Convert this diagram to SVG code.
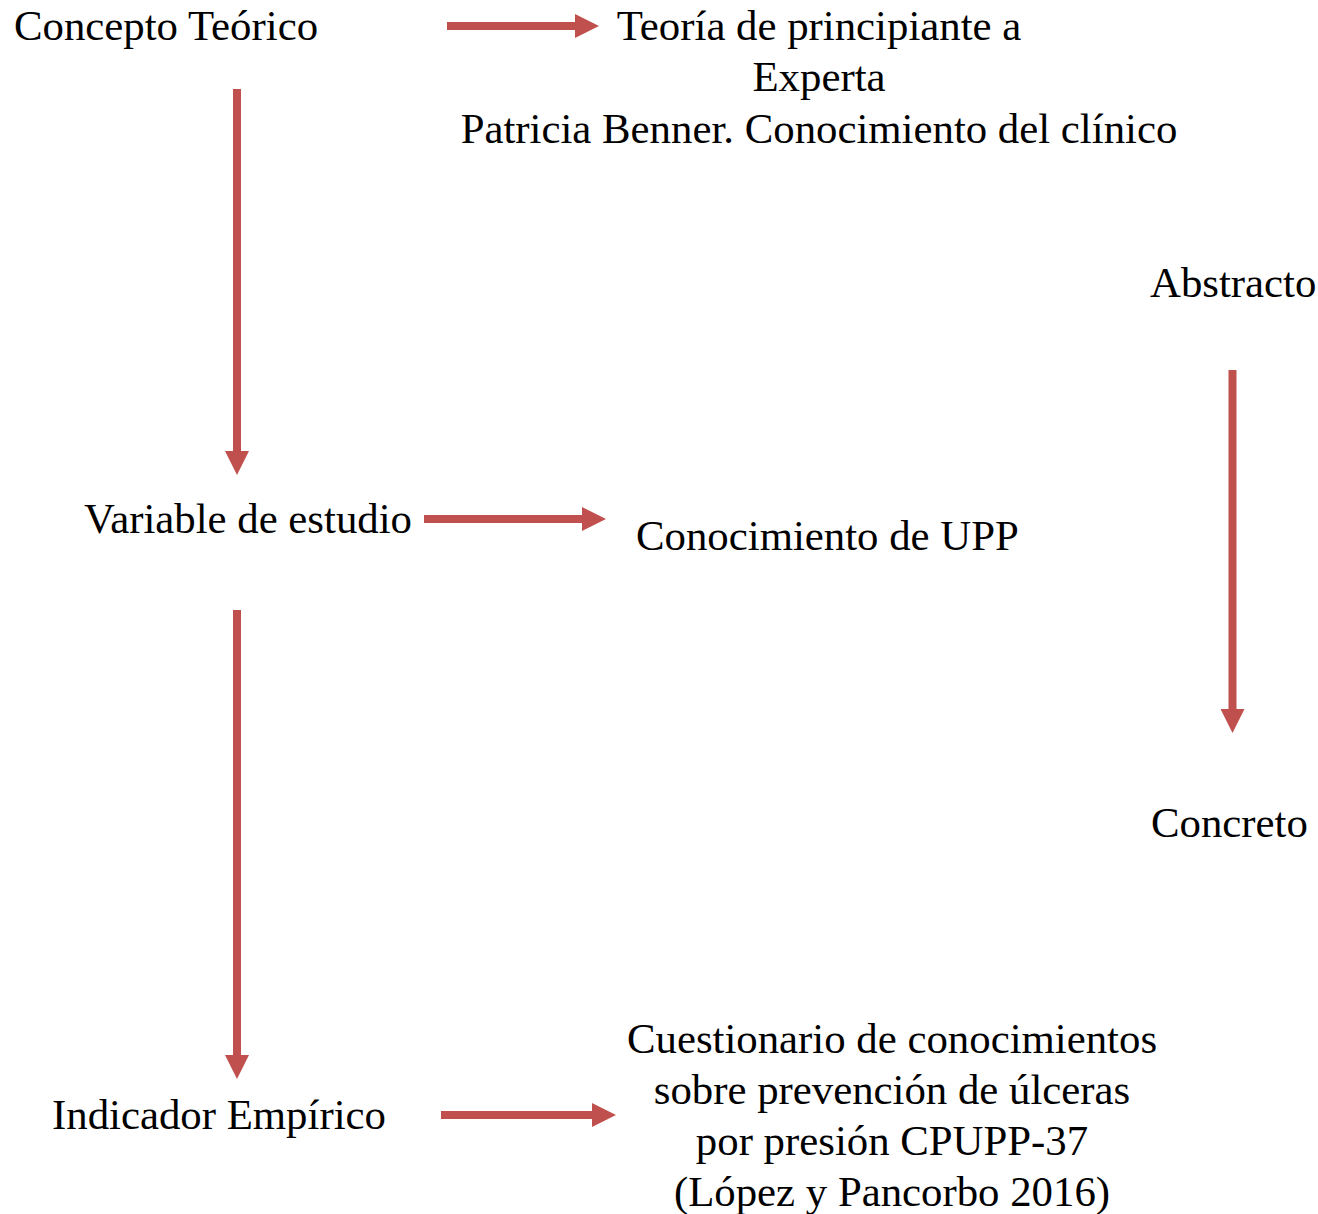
<svg xmlns="http://www.w3.org/2000/svg" width="1318" height="1214" viewBox="0 0 1318 1214">
<style>
text{font-family:"Liberation Serif","Times New Roman",serif;font-size:42.8px;fill:#000}
.c{text-anchor:middle}
.a{stroke:#C0504D;stroke-width:8;fill:none}
</style>
<defs>
<marker id="ah" markerUnits="userSpaceOnUse" markerWidth="24" markerHeight="24" refX="0" refY="12" orient="auto">
<path d="M0,0 L24,12 L0,24 z" fill="#C0504D"/>
</marker>
</defs>
<rect width="1318" height="1214" fill="#fff"/>
<g id="connectors">
<line class="a" x1="447" y1="26" x2="575" y2="26" marker-end="url(#ah)"/>
<line class="a" x1="237" y1="89" x2="237" y2="451" marker-end="url(#ah)"/>
<line class="a" x1="424" y1="519" x2="582" y2="519" marker-end="url(#ah)"/>
<line class="a" x1="237" y1="610" x2="237" y2="1055" marker-end="url(#ah)"/>
<line class="a" x1="441" y1="1115" x2="592" y2="1115" marker-end="url(#ah)"/>
<line class="a" x1="1232.5" y1="370" x2="1232.5" y2="709" marker-end="url(#ah)"/>
</g>
<g id="concepto"><text x="14" y="40">Concepto Teórico</text></g>
<g id="teoria">
<text class="c" x="819" y="40">Teoría de principiante a</text>
<text class="c" x="819" y="91">Experta</text>
<text class="c" x="819" y="143">Patricia Benner. Conocimiento del clínico</text>
</g>
<g id="abstracto"><text x="1150" y="297">Abstracto</text></g>
<g id="variable"><text x="84" y="533">Variable de estudio</text></g>
<g id="conocimiento"><text x="636" y="550">Conocimiento de UPP</text></g>
<g id="concreto"><text x="1151" y="837">Concreto</text></g>
<g id="indicador"><text x="52" y="1129">Indicador Empírico</text></g>
<g id="cuestionario">
<text class="c" x="892" y="1053">Cuestionario de conocimientos</text>
<text class="c" x="892" y="1104">sobre prevención de úlceras</text>
<text class="c" x="892" y="1155">por presión CPUPP-37</text>
<text class="c" x="892" y="1206">(López y Pancorbo 2016)</text>
</g>
</svg>
